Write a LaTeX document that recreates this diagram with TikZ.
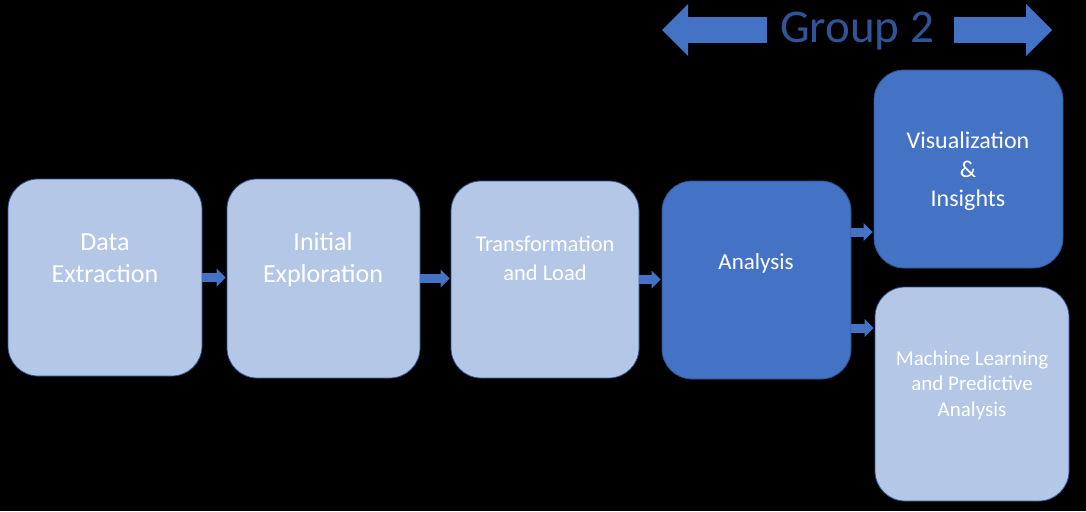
\documentclass[tikz,border=0pt]{standalone}
\usepackage{fontspec}
\setmainfont{Carlito}
\usetikzlibrary{arrows.meta,calc}
\definecolor{lightbox}{HTML}{B4C7E7}
\definecolor{darkbox}{HTML}{4472C4}
\definecolor{boxline}{HTML}{2F528F}
\definecolor{grouptext}{HTML}{2F5597}
\begin{document}
\begin{tikzpicture}[x=1pt,y=-1pt,
  box/.style={draw=boxline, line width=0.8pt, rounded corners=30pt, inner sep=0pt},
  lightfill/.style={box, fill=lightbox},
  darkfill/.style={box, fill=darkbox},
  lbl/.style={text=white, align=center, inner sep=0pt},
  flow/.style={draw=darkbox, line width=9pt, shorten >=1pt,
    -{Triangle[length=9pt,width=18pt,line width=0pt]}},
  big/.style={draw=darkbox, line width=26pt,
    -{Triangle[length=26pt,width=52pt,line width=0pt]}},
]
\fill[black] (0,0) rectangle (1086,511);
\useasboundingbox (0,0) rectangle (1086,511);

% boxes
\node[lightfill, minimum width=194pt, minimum height=197pt] (b1) at (105,277.5) {};
\node[lightfill, minimum width=193pt, minimum height=199pt] (b2) at (323.5,278.5) {};
\node[lightfill, minimum width=188pt, minimum height=197pt] (b3) at (545,279.5) {};
\node[darkfill,  minimum width=189pt, minimum height=198pt] (b4) at (756.5,280) {};
\node[darkfill,  minimum width=189pt, minimum height=198pt] (b5) at (968.5,169) {};
\node[lightfill, minimum width=194pt, minimum height=214pt] (b6) at (972,394) {};

% labels
\node[lbl, font=\fontsize{26}{32}\selectfont] (t1) at (105,258) {Data\\Extraction};
\node[lbl, font=\fontsize{26}{32}\selectfont] (t2) at (323,260) {Initial\\Exploration};
\node[lbl, font=\fontsize{22.5}{29}\selectfont] (t3) at (545,258) {Transformation\\and Load};
\node[lbl, font=\fontsize{23}{28}\selectfont] (t4) at (756,263) {Analysis};
\node[lbl, font=\fontsize{24}{29}\selectfont] (t5) at (968,171) {Visualization\\\&\\Insights};
\node[lbl, font=\fontsize{21}{25.5}\selectfont] (t6) at (972,385) {Machine Learning\\and Predictive\\Analysis};

% flow arrows
\coordinate (y4) at (0,232);
\coordinate (y5) at (0,328);
\draw[flow] (b1.east) -- (b1.east -| b2.west);
\draw[flow] (b2.east) -- (b2.east -| b3.west);
\draw[flow] (b3.east) -- (b3.east -| b4.west);
\draw[flow] (b4.east |- y4) -- (b5.west |- y4);
\draw[flow] (b4.east |- y5) -- (b6.west |- y5);

% group header
\node[text=grouptext, inner sep=0pt, anchor=base, font=\fontsize{47}{56}\selectfont] (g) at (857,43) {Group 2};
\coordinate (lt) at (662,30);
\coordinate (rt) at (1052,30);
\draw[big] ([xshift=-13pt]g.west |- lt) -- (lt);
\draw[big] ([xshift=20pt]g.east |- rt) -- (rt);
\end{tikzpicture}
\end{document}
